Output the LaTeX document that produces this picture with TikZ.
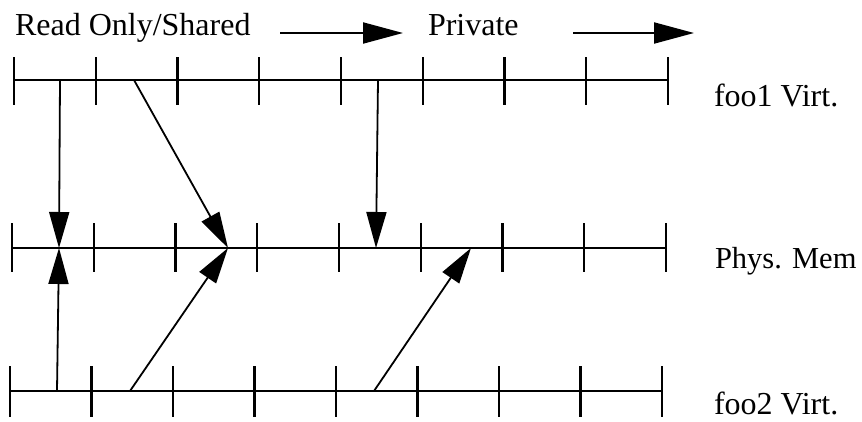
\documentclass[tikz,border=0pt]{standalone}
\usepackage{fontspec}
\setmainfont{Liberation Serif}
\usetikzlibrary{arrows.meta}
\begin{document}
\begin{tikzpicture}[x=1pt,y=-1pt, line width=2pt,
  lbl/.style={font=\fontsize{32}{36}\selectfont, inner sep=0pt, anchor=base west},
  map/.style={-{Triangle[length=36pt,width=20pt]}, line width=1.8pt},
  bigarrow/.style={-{Triangle[length=40pt,width=21pt]}, line width=2pt},
  memline/.style={line width=2.2pt},
  tick/.style={line width=2.2pt}]
\useasboundingbox (0,0) rectangle (862,421);
% header labels
\node[lbl] (ro) at (14,35) {Read Only/Shared};
\node[lbl] (pv) at (427,35) {Private};
\coordinate (a1s) at (280,33);
\coordinate (a1e) at (403,33);
\coordinate (a2s) at (573,33);
\coordinate (a2e) at (694,33);
\draw[bigarrow] (a1s) -- (a1e);
\draw[bigarrow] (a2s) -- (a2e);
% lines
\coordinate (t0) at (14,80);  \coordinate (t8) at (668,80);
\coordinate (m0) at (12,248); \coordinate (m8) at (666,248);
\coordinate (b0) at (10,391); \coordinate (b8) at (662,391);
\draw[memline] (t0) -- (t8);
\draw[memline] (m0) -- (m8);
\draw[memline] (b0) -- (b8);
\foreach \i in {0,...,8} {
  \draw[tick] ({14+81.75*\i},57) -- ({14+81.75*\i},105);
  \draw[tick] ({12+81.75*\i},223) -- ({12+81.75*\i},272);
  \draw[tick] ({10+81.5*\i},366) -- ({10+81.5*\i},417);
}
% right labels
\node[lbl] (f1) at (713,106) {foo1 Virt.};
\node[lbl, font=\fontsize{30.5}{36}\selectfont] (pm) at (714,268) {Phys. Mem};
\node[lbl] (f2) at (713,414) {foo2 Virt.};
% mapping points
\coordinate (t1) at (60,80);
\coordinate (t2) at (134,80);
\coordinate (t3) at (378,80);
\coordinate (p1) at (59,248);
\coordinate (p2) at (228,248);
\coordinate (p3) at (376,248);
\coordinate (p4) at (471,248);
\coordinate (q1) at (57,391);
\coordinate (q2) at (130,391);
\coordinate (q3) at (374,391);
\draw[map] (t1) -- (p1);
\draw[map] (t2) -- (p2);
\draw[map] (t3) -- (p3);
\draw[map] (q1) -- (p1);
\draw[map] (q2) -- (p2);
\draw[map] (q3) -- (p4);
\end{tikzpicture}
\end{document}
